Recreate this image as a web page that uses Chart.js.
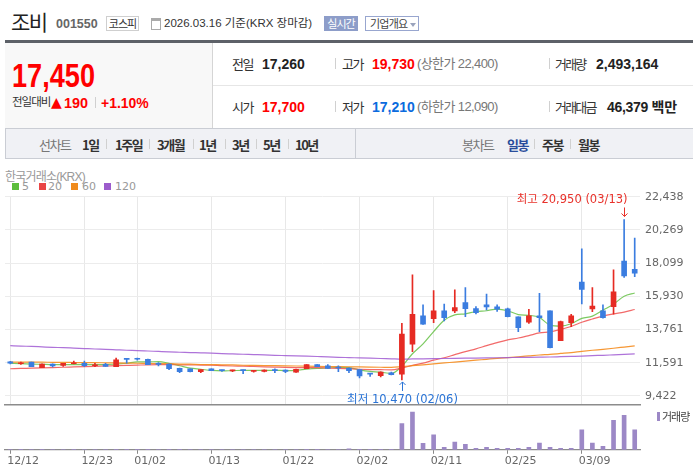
<!DOCTYPE html>
<html lang="ko">
<head>
<meta charset="utf-8">
<script src="https://cdn.jsdelivr.net/npm/chart.js@4.4.1/dist/chart.umd.min.js"></script>
<style>
  html, body { margin: 0; padding: 0; background: #fff; }
  #page { position: relative; width: 693px; height: 471px; overflow: hidden; }
  .t { position: absolute; white-space: nowrap; line-height: 1; font-family: "Liberation Sans", "Noto Sans CJK KR", sans-serif; }
  .k { font-family: "Noto Sans CJK KR", sans-serif; }
  .b { font-weight: bold; }
  .box { position: absolute; box-sizing: border-box; white-space: nowrap; }
  .sep { position: absolute; width: 1px; background: #d0d0d0; }
  canvas { position: absolute; left: 0; }
</style>
</head>
<body>
<div id="page">
  <!-- title line -->
  <div class="t k" style="left:11px;top:11px;font-size:21px;color:#222;letter-spacing:-1.5px">조비</div>
  <div class="t b" style="left:56px;top:18px;font-size:12.5px;color:#666">001550</div>
  <div class="box k" style="left:106px;top:16px;width:33px;height:15px;border:1px solid #cfcfcf;font-size:11px;line-height:13px;text-align:center;color:#333;letter-spacing:-1px">코스피</div>
  <div class="box" style="left:151px;top:18px;width:10px;height:12px;border:1px solid #aaa;border-top:3px solid #aaa"></div>
  <div class="t" style="left:164px;top:18px;font-size:11.5px;color:#333">2026.03.16 기준(KRX 장마감)</div>
  <div class="box k" style="left:324px;top:16px;width:34px;height:15px;background:#8d9dc9;color:#fff;font-size:11px;line-height:15px;text-align:center;letter-spacing:-1px">실시간</div>
  <div class="box k" style="left:365px;top:16px;width:54px;height:15px;border:1px solid #98a6cf;color:#444;font-size:11px;line-height:13px;padding-left:4px;letter-spacing:-0.8px">기업개요<span style="display:inline-block;width:0;height:0;margin-left:3px;vertical-align:middle;border-left:3px solid transparent;border-right:3px solid transparent;border-top:4px solid #9aa3bd"></span></div>
  <div class="box" style="left:5px;top:40px;width:688px;height:3px;background:#5d6168"></div>

  <!-- price block -->
  <div class="box" style="left:5px;top:43px;width:208px;height:85px;background:#f8f8f8;border-right:1px solid #d5d5d5"></div>
  <div class="t b" style="left:12px;top:58.5px;font-size:33.5px;color:#f00;transform:scaleX(0.81);transform-origin:0 0">17,450</div>
  <div class="t k" style="left:12px;top:96px;font-size:11.5px;color:#333;letter-spacing:-1px">전일대비</div>
  <div class="t" style="left:51px;top:95px;font-size:14px;color:#f00;font-family:'DejaVu Sans'">▲</div>
  <div class="t b" style="left:64px;top:94.5px;font-size:15.5px;color:#f00;transform:scaleX(0.93);transform-origin:0 0">190</div>
  <div class="sep" style="left:95px;top:97px;height:11px"></div>
  <div class="t b" style="left:101px;top:94.5px;font-size:15.5px;color:#f00;transform:scaleX(0.9);transform-origin:0 0">+1.10%</div>

  <div class="box" style="left:213px;top:85px;width:480px;height:1px;background:#e6e6e6"></div>
  <!-- row 1 -->
  <div class="t k" style="left:232px;top:57px;font-size:13px;color:#333;letter-spacing:-1.5px">전일</div>
  <div class="t b" style="left:262px;top:56.5px;font-size:14px;color:#222">17,260</div>
  <div class="sep" style="left:335px;top:58px;height:11px"></div>
  <div class="t k" style="left:342px;top:57px;font-size:13px;color:#333;letter-spacing:-1.5px">고가</div>
  <div class="t b" style="left:372px;top:56.5px;font-size:14px;color:#f00">19,730</div>
  <div class="t" style="left:417px;top:57px;font-size:13px;color:#777;letter-spacing:-0.6px">(상한가 22,400)</div>
  <div class="sep" style="left:549px;top:58px;height:11px"></div>
  <div class="t k" style="left:555px;top:57px;font-size:13px;color:#333;letter-spacing:-1.8px">거래량</div>
  <div class="t b" style="left:596px;top:56.5px;font-size:14px;color:#222">2,493,164</div>
  <!-- row 2 -->
  <div class="t k" style="left:232px;top:100px;font-size:13px;color:#333;letter-spacing:-1.5px">시가</div>
  <div class="t b" style="left:262px;top:99.5px;font-size:14px;color:#f00">17,700</div>
  <div class="sep" style="left:335px;top:101px;height:11px"></div>
  <div class="t k" style="left:342px;top:100px;font-size:13px;color:#333;letter-spacing:-1.5px">저가</div>
  <div class="t b" style="left:372px;top:99.5px;font-size:14px;color:#0b6bde">17,210</div>
  <div class="t" style="left:417px;top:100px;font-size:13px;color:#777;letter-spacing:-0.6px">(하한가 12,090)</div>
  <div class="sep" style="left:549px;top:101px;height:11px"></div>
  <div class="t k" style="left:555px;top:100px;font-size:13px;color:#333;letter-spacing:-1.8px">거래대금</div>
  <div class="t b" style="left:607px;top:99.5px;font-size:14px;color:#222;letter-spacing:-0.3px">46,379 백만</div>

  <!-- tab bar -->
  <div class="box" style="left:5px;top:128px;width:688px;height:31px;background:#f0f1f5;border:1px solid #cacdd4;border-right:none"></div>
  <div class="box" style="left:355px;top:129px;width:1px;height:29px;background:#cacdd4"></div>
  <div class="t k" style="left:39px;top:137.5px;font-size:13px;color:#777;letter-spacing:-1.5px">선차트</div>
  <div class="t k b" style="left:82px;top:137.5px;font-size:13px;color:#333;letter-spacing:-1.5px">1일</div>
  <div class="sep" style="left:106px;top:139px;height:10px"></div>
  <div class="t k b" style="left:115px;top:137.5px;font-size:13px;color:#333;letter-spacing:-1.5px">1주일</div>
  <div class="sep" style="left:149px;top:139px;height:10px"></div>
  <div class="t k b" style="left:157px;top:137.5px;font-size:13px;color:#333;letter-spacing:-1.5px">3개월</div>
  <div class="sep" style="left:193px;top:139px;height:10px"></div>
  <div class="t k b" style="left:199px;top:137.5px;font-size:13px;color:#333;letter-spacing:-1.5px">1년</div>
  <div class="sep" style="left:225px;top:139px;height:10px"></div>
  <div class="t k b" style="left:232px;top:137.5px;font-size:13px;color:#333;letter-spacing:-1.5px">3년</div>
  <div class="sep" style="left:256px;top:139px;height:10px"></div>
  <div class="t k b" style="left:263px;top:137.5px;font-size:13px;color:#333;letter-spacing:-1.5px">5년</div>
  <div class="sep" style="left:288px;top:139px;height:10px"></div>
  <div class="t k b" style="left:295px;top:137.5px;font-size:13px;color:#333;letter-spacing:-1.5px">10년</div>
  <div class="t k" style="left:462px;top:137.5px;font-size:13px;color:#777;letter-spacing:-1.5px">봉차트</div>
  <div class="t k b" style="left:507px;top:137.5px;font-size:13px;color:#2a4d9c;letter-spacing:-1.5px">일봉</div>
  <div class="sep" style="left:534px;top:139px;height:10px"></div>
  <div class="t k b" style="left:542px;top:137.5px;font-size:13px;color:#333;letter-spacing:-1.5px">주봉</div>
  <div class="sep" style="left:570px;top:139px;height:10px"></div>
  <div class="t k b" style="left:578px;top:137.5px;font-size:13px;color:#333;letter-spacing:-1.5px">월봉</div>

  <!-- chart legend -->
  <div class="t" style="left:5px;top:171px;font-size:12px;color:#999;letter-spacing:-0.8px">한국거래소(KRX)</div>
  <div class="box" style="left:12px;top:183px;width:7px;height:7px;background:#5bbd3c"></div>
  <div class="t" style="left:22px;top:181px;font-size:11px;color:#999;font-family:'DejaVu Sans'">5</div>
  <div class="box" style="left:39px;top:183px;width:7px;height:7px;background:#e94545"></div>
  <div class="t" style="left:48px;top:181px;font-size:11px;color:#999;font-family:'DejaVu Sans'">20</div>
  <div class="box" style="left:71px;top:183px;width:7px;height:7px;background:#f08b1d"></div>
  <div class="t" style="left:82px;top:181px;font-size:11px;color:#999;font-family:'DejaVu Sans'">60</div>
  <div class="box" style="left:104px;top:183px;width:7px;height:7px;background:#9c5ccc"></div>
  <div class="t" style="left:115px;top:181px;font-size:11px;color:#999;font-family:'DejaVu Sans'">120</div>

  <canvas id="priceChart" width="693" height="221" style="top:185px"></canvas>
  <canvas id="volumeChart" width="693" height="66" style="top:405px"></canvas>

  <div class="box" style="left:657px;top:412px;width:3px;height:9px;background:#9c88c6"></div>
  <div class="t k" style="left:662px;top:411px;font-size:11px;color:#444;letter-spacing:-1px">거래량</div>
</div>

<script>
// trading days shown on the chart
const dates = ['12/12','12/15','12/16','12/17','12/18','12/19','12/22','12/23','12/24','12/26',
  '12/29','12/30','01/02','01/05','01/06','01/07','01/08','01/09','01/12','01/13',
  '01/14','01/15','01/16','01/19','01/20','01/21','01/22','01/23','01/26','01/27',
  '01/28','01/29','01/30','02/02','02/03','02/04','02/05','02/06','02/09','02/10',
  '02/11','02/12','02/13','02/19','02/20','02/23','02/24','02/25','02/26','02/27',
  '03/03','03/04','03/05','03/06','03/09','03/10','03/11','03/12','03/13','03/16'];
const tickDates = ['12/12','12/23','01/02','01/13','01/22','02/02','02/11','02/25','03/09'];
const priceTicks = [9422, 11591, 13761, 15930, 18099, 20269, 22438];

const opens = [11650,11530,11630,11280,11510,11420,11530,11560,11400,11490,
  11340,11840,11840,11820,11510,11510,11230,11190,11010,11190,
  11100,11060,11100,11030,11030,11110,11120,10970,11210,11470,
  11400,11270,11250,11140,10870,10750,10940,10840,12800,14650,
  14470,14980,14980,15520,15130,15370,15240,15110,14590,14240,
  14650,14980,13040,14210,16870,15110,14980,15260,18240,17700];
const highs = [11680,11640,11640,11520,11520,11560,11710,11710,11560,11560,
  11900,11840,11900,11830,11600,11520,11240,11200,11150,11200,
  11120,11120,11110,11100,11130,11190,11130,11180,11480,11480,
  11470,11390,11260,11150,10870,11000,10990,14170,17330,15370,
  16300,15430,16350,16500,15260,16070,15370,15170,14600,15090,
  16130,14990,14320,14760,19030,16500,15370,17660,20950,19730];
const lows = [11520,11480,11330,11270,11320,11360,11510,11340,11330,11350,
  11330,11560,11760,11460,11390,11140,10950,11000,10950,11070,
  11020,11010,10880,10970,11000,10950,10950,10960,11200,11330,
  11220,11010,10950,10600,10700,10660,10800,10470,12320,14090,
  14210,14320,14870,14600,14780,15040,14950,14590,13620,14170,
  13620,12570,13030,13950,15430,14930,14500,14760,17170,17210];
const closes = [11560,11570,11340,11510,11380,11550,11560,11400,11460,11360,
  11780,11810,11820,11470,11490,11210,11010,11010,11140,11080,
  11080,11110,11080,11090,11120,11080,11030,11170,11470,11340,
  11230,11250,11080,10730,10850,10990,10810,13470,14760,14110,
  14980,14540,15190,15130,14870,15240,15090,14600,13890,14650,
  14540,12580,14280,14650,16390,15300,14540,16220,17260,17450];

const ma5 = [11560,11540,11510,11490,11470,11470,11470,11480,11470,11470,
  11510,11560,11650,11650,11670,11560,11400,11240,11170,11090,
  11060,11080,11100,11090,11100,11100,11080,11100,11170,11220,
  11250,11290,11270,11130,11030,10980,10890,11370,12180,12830,
  13630,14370,14720,14790,14940,14990,15100,14990,14740,14690,
  14550,14050,13990,14140,14490,14640,15030,15420,15940,16150];
const ma20 = [11200,11220,11240,11260,11280,11300,11320,11340,11360,11380,
  11400,11420,11440,11460,11470,11470,11460,11450,11440,11430,
  11400,11380,11370,11350,11330,11310,11290,11280,11280,11270,
  11250,11230,11200,11170,11150,11140,11130,11250,11420,11570,
  11760,11920,12120,12320,12500,12710,12910,13090,13210,13370,
  13540,13610,13770,13960,14240,14450,14640,14780,14900,15070];
const ma60 = [11640,11640,11630,11630,11620,11620,11610,11600,11600,11590,
  11580,11570,11560,11550,11540,11530,11510,11500,11480,11470,
  11460,11450,11430,11420,11410,11400,11390,11380,11370,11360,
  11350,11340,11330,11320,11310,11300,11290,11340,11400,11460,
  11520,11580,11640,11700,11760,11820,11880,11930,11980,12040,
  12100,12140,12200,12260,12340,12410,12470,12540,12620,12700];
const ma120 = [12710,12680,12660,12630,12600,12580,12550,12520,12490,12470,
  12440,12410,12390,12360,12330,12300,12280,12260,12240,12220,
  12190,12170,12150,12130,12110,12080,12060,12040,12020,12000,
  11980,11950,11930,11910,11890,11870,11850,11830,11840,11850,
  11860,11870,11880,11890,11900,11910,11920,11930,11940,11950,
  11960,11970,11990,12010,12030,12060,12080,12110,12140,12170];

const volumes = [42000,48000,37000,44000,35000,39000,46000,41000,30000,28000,
  52000,47000,43000,45000,36000,50000,48000,33000,30000,29000,
  27000,25000,31000,24000,28000,30000,33000,36000,55000,45000,
  38000,42000,130000,60000,48000,52000,44000,3270000,4685000,817000,
  1850000,300000,950000,690000,170000,300000,170000,170000,170000,300000,
  820000,300000,170000,170000,2490000,820000,430000,3650000,4300000,2493164];

const UP = '#e62b23';
const DOWN = '#3b7de0';
const candleColors = closes.map((c, i) => c >= opens[i] ? UP : DOWN);
const fmt = v => String(Math.round(v)).replace(/\B(?=(\d{3})+(?!\d))/g, ',');
const isTick = i => tickDates.includes(dates[i]);

Chart.defaults.font.family = '"DejaVu Sans", "Noto Sans CJK KR", sans-serif';

// arrows and labels for the highest / lowest price of the period
const markPlugin = {
    id: 'marks',
    afterDatasetsDraw(chart) {
        const {ctx, scales: {x, y}} = chart;
        const hi = highs.indexOf(Math.max(...highs));
        const lo = lows.indexOf(Math.min(...lows));
        ctx.save();
        ctx.font = '11.5px "DejaVu Sans", "Noto Sans CJK KR"';
        ctx.lineWidth = 1;

        let px = Math.round(x.getPixelForValue(hi)) + 0.5;
        let py = y.getPixelForValue(highs[hi]);
        ctx.strokeStyle = ctx.fillStyle = '#e8312a';
        ctx.beginPath();
        ctx.moveTo(px, py - 12); ctx.lineTo(px, py - 3);
        ctx.moveTo(px - 3, py - 6); ctx.lineTo(px, py - 3); ctx.lineTo(px + 3, py - 6);
        ctx.stroke();
        ctx.textAlign = 'right';
        ctx.textBaseline = 'middle';
        ctx.fillText('최고 ' + fmt(highs[hi]) + ' (' + dates[hi] + ')', px + 3, py - 19);

        px = Math.round(x.getPixelForValue(lo)) + 0.5;
        py = y.getPixelForValue(lows[lo]);
        ctx.strokeStyle = ctx.fillStyle = '#2a74d6';
        ctx.beginPath();
        ctx.moveTo(px, py + 11); ctx.lineTo(px, py + 2);
        ctx.moveTo(px - 3, py + 5); ctx.lineTo(px, py + 2); ctx.lineTo(px + 3, py + 5);
        ctx.stroke();
        ctx.textAlign = 'center';
        ctx.fillText('최저 ' + fmt(lows[lo]) + ' (' + dates[lo] + ')', px, py + 20);
        ctx.restore();
    }
};

function maLine(data, color) {
    return {
        type: 'line', data: data, borderColor: color, borderWidth: 1.2,
        pointRadius: 0, cubicInterpolationMode: 'monotone', order: 2
    };
}

new Chart(document.getElementById('priceChart'), {
    type: 'bar',
    data: {
        labels: dates,
        datasets: [
            maLine(ma120, 'rgba(160,90,210,0.85)'),
            maLine(ma60, 'rgba(245,140,30,0.9)'),
            maLine(ma20, 'rgba(240,80,80,0.85)'),
            maLine(ma5, 'rgba(110,196,80,0.9)'),
            {
                data: lows.map((l, i) => [l, highs[i]]),
                backgroundColor: candleColors, barThickness: 1, grouped: false, order: 1
            },
            {
                data: opens.map((o, i) => [o, closes[i]]),
                backgroundColor: candleColors, barThickness: 5, grouped: false,
                minBarLength: 1, order: 0
            }
        ]
    },
    options: {
        responsive: false,
        animation: false,
        layout: { padding: { top: 11.7, left: 5, right: 0, bottom: 1 } },
        plugins: { legend: { display: false }, tooltip: { enabled: false } },
        scales: {
            x: {
                ticks: { display: false, autoSkip: false },
                grid: {
                    offset: false, drawTicks: false,
                    color: c => isTick(c.index) ? '#e8e8e8' : 'rgba(0,0,0,0)'
                },
                border: { color: '#8c8c8c', width: 1.5 },
                afterFit(s) { s.paddingLeft = 0; s.paddingRight = 0; }
            },
            y: {
                position: 'right',
                min: 8834,
                max: 22438,
                afterBuildTicks(s) { s.ticks = priceTicks.map(v => ({ value: v })); },
                ticks: { color: '#666', font: { size: 11 }, padding: 5, callback: v => fmt(v) },
                grid: { color: '#ececec', drawTicks: false },
                border: { display: false },
                afterFit(s) { s.width = 53; s.paddingTop = 0; s.paddingBottom = 0; }
            }
        }
    },
    plugins: [markPlugin]
});

new Chart(document.getElementById('volumeChart'), {
    type: 'bar',
    data: {
        labels: dates,
        datasets: [{ data: volumes, backgroundColor: '#9c88c6', barThickness: 4 }]
    },
    options: {
        responsive: false,
        animation: false,
        layout: { padding: { top: 0, left: 5, right: 53, bottom: 2 } },
        plugins: { legend: { display: false }, tooltip: { enabled: false } },
        scales: {
            x: {
                grid: {
                    offset: false, drawOnChartArea: false, tickLength: 4,
                    tickColor: c => isTick(c.index) ? '#888' : 'rgba(0,0,0,0)'
                },
                border: { color: '#8c8c8c', width: 1.2 },
                ticks: {
                    autoSkip: false, maxRotation: 0, minRotation: 0, align: 'start',
                    labelOffset: -3, padding: 1, color: '#666', font: { size: 11 },
                    callback: (v, i) => isTick(i) ? dates[i] : ''
                },
                afterFit(s) { s.paddingLeft = 0; s.paddingRight = 0; }
            },
            y: { display: false, min: 0, max: 5570000 }
        }
    }
});
</script>
</body>
</html>
